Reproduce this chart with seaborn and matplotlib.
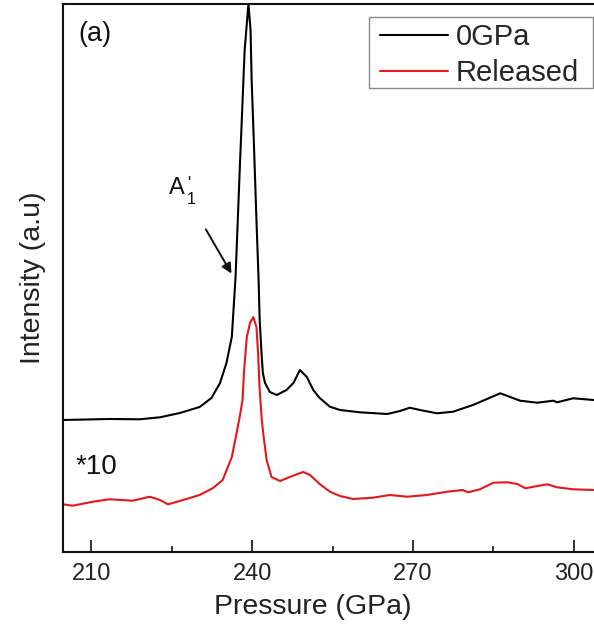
import matplotlib
matplotlib.use("Agg")
import matplotlib.pyplot as plt
from matplotlib.patches import Rectangle
import seaborn as sns
import pandas as pd

# Spectra in arbitrary units, sampled along the pressure axis
pressure_0gpa = [204.7, 213.4, 219.0, 222.8, 226.5, 230.2, 232.4, 234.0, 235.2, 236.2,
                 236.9, 237.7, 238.6, 239.3, 239.7, 239.9, 240.3, 240.8, 241.2, 241.4,
                 241.8, 242.0, 242.4, 243.3, 244.6, 246.4, 247.7, 248.9, 250.2, 251.4,
                 252.6, 254.5, 256.4, 260.1, 265.2, 267.6, 269.4, 271.3, 274.5, 277.5,
                 281.2, 286.3, 290.0, 293.2, 296.2, 296.9, 299.9, 303.7]
intensity_0gpa = [132, 133, 132.7, 134.7, 139, 145, 154, 169, 189, 215,
                  275, 385, 502, 548, 522, 472, 412, 332, 272, 232,
                  194, 179, 169, 160, 157, 162, 169, 182, 175, 162,
                  154, 145.3, 142, 139.7, 138, 141, 144.3, 142, 138.7, 140.3,
                  147, 158.7, 151.3, 149.3, 151.3, 149.7, 153.7, 152]

pressure_released = [204.7, 206.5, 210.3, 213.4, 217.7, 220.9, 222.8, 224.3, 227.1, 230.2,
                     232.7, 234.5, 236.2, 237.1, 237.7, 238.2, 238.5, 239.0, 239.6, 240.2,
                     240.8, 241.1, 241.4, 241.8, 242.1, 242.7, 243.6, 245.2, 247.0, 249.5,
                     250.8, 252.6, 254.5, 256.4, 258.8, 262.5, 265.7, 268.9, 272.6, 276.4,
                     279.3, 280.3, 282.5, 285.0, 287.6, 289.5, 291.0, 293.2, 295.1, 296.9,
                     299.9, 303.7]
intensity_released = [47.7, 46.3, 50.3, 52.7, 51.3, 55.3, 52, 47.7, 52, 57,
                      64, 72, 95, 119, 136, 152, 182, 215, 229, 235,
                      225, 199, 162, 132, 117, 92, 75, 71, 75, 80,
                      77, 68, 60.3, 56, 53, 54.3, 57, 55.3, 57, 60.3,
                      62, 59.7, 62.7, 69.3, 69.7, 68, 63.7, 66, 67.7, 64.7,
                      62.7, 62]

series_labels = ["0GPa", "Released"]
series_colors = ["#000000", "#e8151b"]
x_ticks = [210, 240, 270, 300]
x_minor_ticks = [225, 255, 285]

sns.set_style("white")
plt.rcParams["font.family"] = ["Liberation Sans", "DejaVu Sans"]
plt.rcParams["lines.solid_joinstyle"] = "round"

df = pd.concat([
    pd.DataFrame({"Pressure": pressure_0gpa, "Intensity": intensity_0gpa, "Sample": series_labels[0]}),
    pd.DataFrame({"Pressure": pressure_released, "Intensity": intensity_released, "Sample": series_labels[1]}),
])

fig = plt.figure(figsize=(5.94, 6.28), dpi=100)
ax = fig.add_axes([63 / 594, 76 / 628, (600.5 - 63) / 594, 548 / 628])

sns.lineplot(data=df, x="Pressure", y="Intensity", hue="Sample", sort=False,
             palette=dict(zip(series_labels, series_colors)), linewidth=1.5, ax=ax,
             estimator=None)

ax.set_xlim(204.7, 305)
ax.set_ylim(0, 548)
ax.set_xticks(x_ticks)
ax.set_xticks(x_minor_ticks, minor=True)
ax.set_yticks([])
ax.tick_params(axis="x", which="major", direction="in", length=8.5, width=1.3,
               labelsize=17, pad=8, bottom=True, colors="#222222")
ax.tick_params(axis="x", which="minor", direction="in", length=4.5, width=1.3, bottom=True,
               colors="#222222")
for s in ax.spines.values():
    s.set_linewidth(1.5)
    s.set_color("#111111")

ax.set_xlabel("Pressure (GPa)", fontsize=20.5, color="#222222")
ax.xaxis.set_label_coords(0.4645, -0.0766)
ax.set_ylabel("Intensity (a.u)", fontsize=20.5, labelpad=12, color="#222222")

# panel tag, scale note and peak label
ax.text(210.7, 518, "(a)", fontsize=19.5, ha="center", va="center", color="#111111")
ax.text(210.9, 85, "*10", fontsize=20, ha="center", va="center", color="#111111")
ax.text(226.0, 364, "A", fontsize=17, ha="center", va="center", color="#111111")
ax.text(227.9, 369, "'", fontsize=12, ha="left", va="center", color="#111111")
ax.text(227.7, 352, "1", fontsize=11.5, ha="left", va="center", color="#111111")
ax.annotate("", xy=(236.4, 276), xytext=(231.1, 325),
            arrowprops=dict(arrowstyle="-|>", color="#111111", lw=1.4,
                            mutation_scale=15))

# legend: entries without frame, plus a plain box around them
leg = ax.legend(loc="upper left", bbox_to_anchor=((380 - 63) / 537.5, (552 - 23) / 548),
                borderaxespad=0, borderpad=0, frameon=False,
                fontsize=21, handlelength=2.33, handletextpad=0.27, labelspacing=0.28)
for line in leg.get_lines():
    line.set_linewidth(1.5)
ax.add_patch(Rectangle(((369 - 63) / 537.5, (552 - 88) / 548),
                       (593 - 369) / 537.5, (88 - 17) / 548,
                       transform=ax.transAxes, fill=False, edgecolor="#888888",
                       linewidth=1.0, zorder=5))

fig.savefig("out.png", dpi=100)
